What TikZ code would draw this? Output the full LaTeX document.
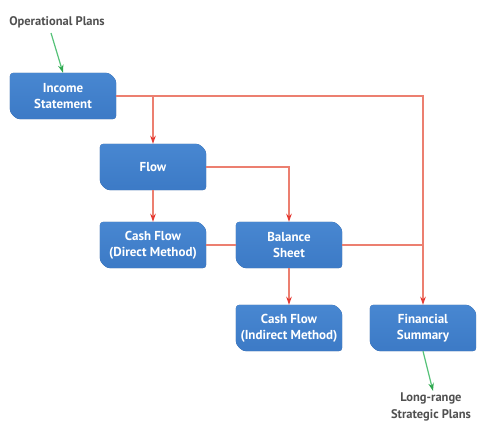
\documentclass[tikz,border=0pt]{standalone}
\usepackage{fontspec}
\setmainfont{PT Sans}
\usetikzlibrary{calc,arrows.meta}
\definecolor{boxblue}{HTML}{3C7AC6}
\definecolor{boxtop}{HTML}{4887D1}
\definecolor{boxshadow}{HTML}{25508A}
\definecolor{linered}{HTML}{EC7F70}
\definecolor{tipred}{HTML}{E53A33}
\definecolor{arrgreen}{HTML}{55C278}
\definecolor{tipgreen}{HTML}{2FA84F}
\definecolor{labelgrey}{HTML}{505050}
\pgfdeclarelayer{background}
\pgfsetlayers{background,main}
\tikzset{
  fbox/.style={rectangle, minimum width=106pt, minimum height=46pt, inner sep=2pt, text=white,
    font=\bfseries\fontsize{13}{16}\selectfont, align=center},
  lbl/.style={text=labelgrey, font=\bfseries\fontsize{12.5}{17}\selectfont, align=center},
  redline/.style={draw=linered, line width=1.3pt},
  redarrow/.style={redline, -{Stealth[length=8pt,width=5.5pt,color=tipred]}},
  greenarrow/.style={draw=arrgreen, line width=1.2pt, -{Stealth[length=8pt,width=5.5pt,color=tipgreen]}}
}
\newcommand\fshape[1]{%
  \begin{pgfonlayer}{background}
  \fill[boxshadow, rounded corners=3.5pt, shift={(1,2)}]
    (#1.north west) -- ($(#1.north east)+(-7,0)$) -- ($(#1.north east)+(0,7)$)
    -- (#1.south east) -- ($(#1.south west)+(7,0)$) -- ($(#1.south west)+(0,-7)$) -- cycle;
  \shade[top color=boxtop, bottom color=boxblue, rounded corners=3.5pt]
    (#1.north west) -- ($(#1.north east)+(-7,0)$) -- ($(#1.north east)+(0,7)$)
    -- (#1.south east) -- ($(#1.south west)+(7,0)$) -- ($(#1.south west)+(0,-7)$) -- cycle;
  \end{pgfonlayer}}
\begin{document}
\begin{tikzpicture}[x=1pt,y=-1pt]
\useasboundingbox (0,0) rectangle (477,421);
\node[lbl] (ops) at (57,22) {Operational Plans};
\node[fbox] (income) at (63,96) {Income\\Statement};
\node[fbox] (flow) at (153,167) {Flow};
\node[fbox] (direct) at (153,245) {Cash Flow\\(Direct Method)};
\node[fbox] (balance) at (289,245) {Balance\\Sheet};
\node[fbox] (indirect) at (289,328) {Cash Flow\\(Indirect Method)};
\node[fbox] (summary) at (423,328) {Financial\\Summary};
\node[lbl] (longrange) at (431,407) {Long-range\\Strategic Plans};
\fshape{income}\fshape{flow}\fshape{direct}\fshape{balance}\fshape{indirect}\fshape{summary}
\coordinate (opsend) at (51,33);
\coordinate (lrend) at (433,391);
\draw[greenarrow] (opsend) -- (income.north);
\draw[redarrow] (income.east) -| (summary.north);
\draw[redarrow] (flow.north |- income.east) -- (flow.north);
\draw[redarrow] (flow.east) -| (balance.north);
\draw[redarrow] (flow.south) -- (direct.north);
\draw[redline] (direct.east) -- (balance.west);
\draw[redline] (balance.east) -- (balance.east -| summary.north);
\draw[redarrow] (balance.south) -- (indirect.north);
\draw[greenarrow] (summary.south) -- (lrend);
\end{tikzpicture}
\end{document}
